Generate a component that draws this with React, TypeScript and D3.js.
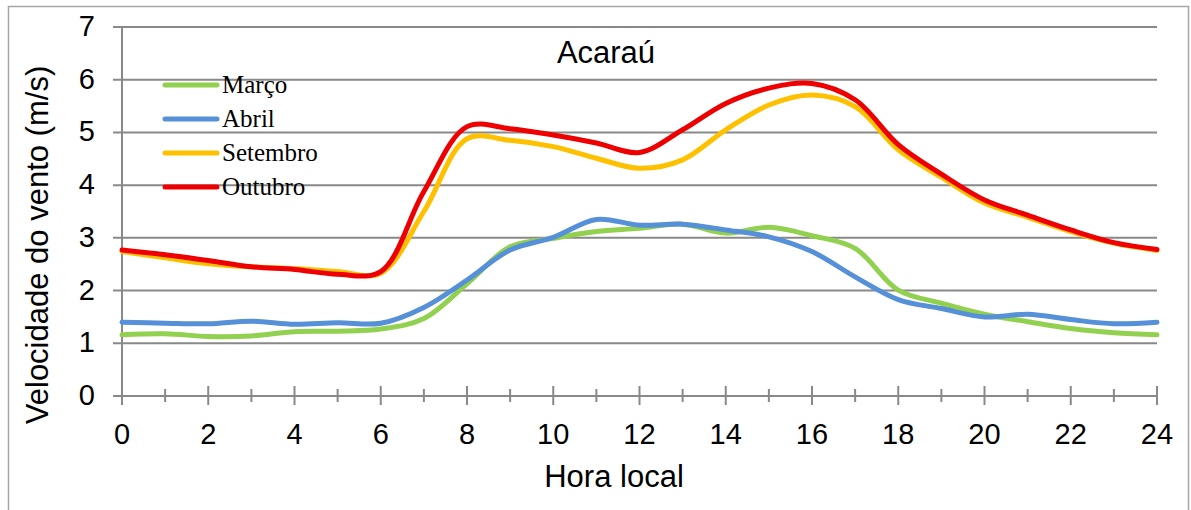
import React from "react";
import * as d3 from "d3";

const hours = d3.range(0, 25);
const marco = [1.16, 1.18, 1.13, 1.14, 1.22, 1.23, 1.27, 1.47, 2.13, 2.83, 2.99, 3.12, 3.18, 3.26, 3.09, 3.2, 3.04, 2.8, 2.01, 1.76, 1.55, 1.41, 1.28, 1.2, 1.16];
const abril = [1.4, 1.38, 1.37, 1.42, 1.36, 1.39, 1.38, 1.68, 2.2, 2.77, 3.01, 3.35, 3.24, 3.26, 3.15, 3.02, 2.74, 2.26, 1.83, 1.66, 1.5, 1.55, 1.45, 1.37, 1.4];
const setembro = [2.74, 2.62, 2.51, 2.45, 2.42, 2.36, 2.33, 3.5, 4.88, 4.85, 4.73, 4.51, 4.32, 4.48, 5.05, 5.52, 5.71, 5.49, 4.67, 4.15, 3.66, 3.39, 3.12, 2.9, 2.76];
const outubro = [2.77, 2.68, 2.57, 2.45, 2.4, 2.31, 2.36, 3.88, 5.11, 5.07, 4.95, 4.8, 4.62, 5.05, 5.55, 5.84, 5.93, 5.62, 4.77, 4.21, 3.72, 3.43, 3.15, 2.91, 2.78];

const seriesNames = ["Março", "Abril", "Setembro", "Outubro"];
const seriesColors = ["#92D050", "#5690D8", "#FFC000", "#EE0000"];
const seriesValues = [marco, abril, setembro, outubro];

const yTicks = [0, 1, 2, 3, 4, 5, 6, 7];
const xMajorTicks = d3.range(0, 25, 2);
const xMinorTicks = d3.range(1, 24, 2);

const title = "Acaraú";
const xTitle = "Hora local";
const yTitle = "Velocidade do vento  (m/s)";

export default function App() {
  const x = d3.scaleLinear().domain([0, 24]).range([122, 1157]);
  const y = d3.scaleLinear().domain([0, 7]).range([396, 27]);
  const line = d3
    .line<number>()
    .x((_, i) => x(hours[i]))
    .y((d) => y(d))
    .curve(d3.curveCatmullRom.alpha(0.5));

  const grid = "#898989";
  const sans = "'Liberation Sans', Arial, sans-serif";
  const serif = "'Liberation Serif', 'Times New Roman', serif";

  return (
    <svg
      width={1191}
      height={510}
      style={{ position: "absolute", left: 0, top: 0, background: "#fff" }}
    >
      <rect x={8.5} y={6.5} width={1180} height={520} fill="#fff" stroke="#a6a6a6" strokeWidth={1.5} />
      {yTicks.slice(1).map((t) => (
        <line key={"g" + t} x1={113} x2={x(24)} y1={y(t)} y2={y(t)} stroke={grid} strokeWidth={2} />
      ))}
      {yTicks.map((t) => (
        <text key={"yl" + t} x={95} y={y(t) + 9} textAnchor="end" fontFamily={sans} fontSize={29} fill="#000">
          {t}
        </text>
      ))}
      <line x1={x(0)} x2={x(0)} y1={y(7)} y2={y(0)} stroke={grid} strokeWidth={2} />
      <line x1={113} x2={x(24)} y1={y(0)} y2={y(0)} stroke={grid} strokeWidth={2} />
      {xMajorTicks.map((t) => (
        <line key={"xM" + t} x1={x(t)} x2={x(t)} y1={y(0) - 10} y2={y(0) + 9} stroke={grid} strokeWidth={2} />
      ))}
      {xMinorTicks.map((t) => (
        <line key={"xm" + t} x1={x(t)} x2={x(t)} y1={y(0) - 7} y2={y(0) + 6} stroke={grid} strokeWidth={2} />
      ))}
      {xMajorTicks.map((t) => (
        <text key={"xl" + t} x={x(t)} y={444} textAnchor="middle" fontFamily={sans} fontSize={29} fill="#000">
          {t}
        </text>
      ))}
      {seriesValues.map((vals, i) => (
        <path
          key={"s" + i}
          d={line(vals) || ""}
          fill="none"
          stroke={seriesColors[i]}
          strokeWidth={5}
          strokeLinecap="round"
          strokeLinejoin="round"
        />
      ))}
      {seriesNames.map((n, i) => (
        <g key={"lg" + i}>
          <line x1={165} x2={217} y1={85 + i * 34} y2={85 + i * 34} stroke={seriesColors[i]} strokeWidth={5} strokeLinecap="round" />
          <text x={222} y={93 + i * 34} fontFamily={serif} fontSize={25} fill="#000">
            {n}
          </text>
        </g>
      ))}
      <text x={606} y={63} textAnchor="middle" fontFamily={sans} fontSize={31} fill="#000">
        {title}
      </text>
      <text x={614} y={487} textAnchor="middle" fontFamily={sans} fontSize={31} fill="#000">
        {xTitle}
      </text>
      <text
        transform={`translate(48, 245) rotate(-90)`}
        textAnchor="middle"
        fontFamily={sans}
        fontSize={31}
        fill="#000"
      >
        {yTitle}
      </text>
    </svg>
  );
}
